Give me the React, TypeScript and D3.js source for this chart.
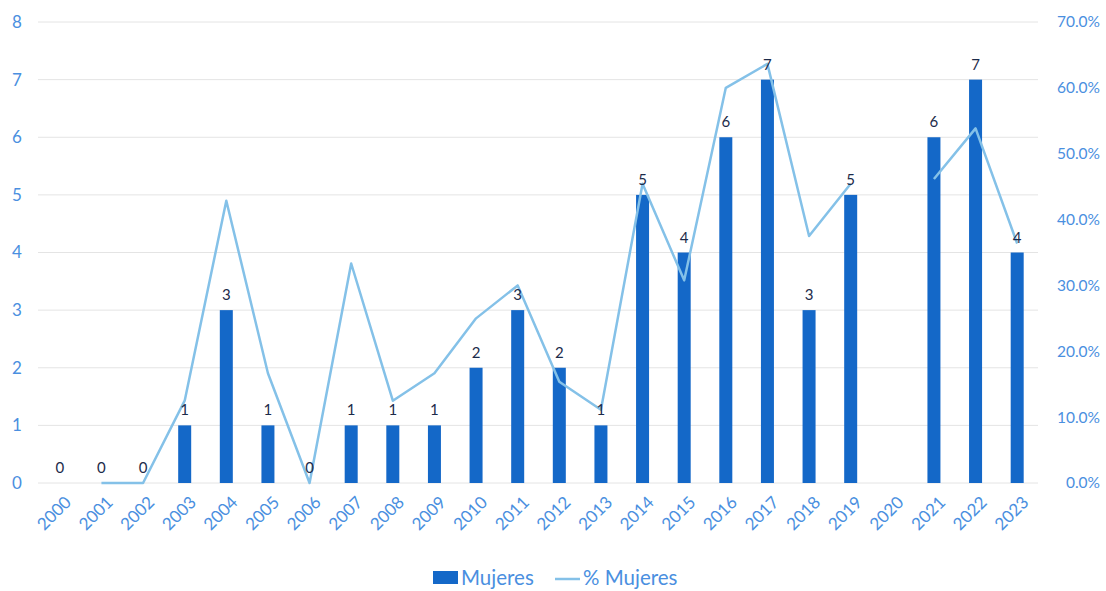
import React from "react";
import * as d3 from "d3";

const years = ["2000","2001","2002","2003","2004","2005","2006","2007","2008","2009","2010","2011","2012","2013","2014","2015","2016","2017","2018","2019","2020","2021","2022","2023"];
const mujeres: (number | null)[] = [0,0,0,1,3,1,0,1,1,1,2,3,2,1,5,4,6,7,3,5,null,6,7,4];
const pctMujeres: (number | null)[] = [null,0,0,0.125,0.4286,0.1667,0,0.3333,0.125,0.1667,0.25,0.30,0.1538,0.1111,0.4545,0.3077,0.60,0.6364,0.375,0.4545,null,0.4615,0.5385,0.3636];
const leftTicks = [0,1,2,3,4,5,6,7,8];
const rightTicks = [0,0.1,0.2,0.3,0.4,0.5,0.6,0.7];

const W = 1106, H = 591;
const FONT = "Lato, 'Open Sans', sans-serif";
const BAR = "#1468c8";
const LINE = "#84c1e8";
const AXIS_TXT = "#4a8fe0";
const LABEL_TXT = "#1c2b4a";

export default function App() {
  const x = d3.scaleBand<string>().domain(years).range([39, 1038]).paddingInner(0).paddingOuter(0);
  const yL = d3.scaleLinear().domain([0, 8]).range([483, 22]);
  const yR = d3.scaleLinear().domain([0, 0.7]).range([483, 22]);
  const bw = 13;
  const cx = (y: string) => (x(y) as number) + x.bandwidth() / 2;

  const line = d3.line<number | null>()
    .defined((d) => d !== null)
    .x((_, i) => cx(years[i]))
    .y((d) => yR(d as number));

  return (
    <svg width={W} height={H} style={{ position: "absolute", left: 0, top: 0, background: "#fff" }}>
      {leftTicks.map((t) => (
        <line key={"g" + t} x1={38} x2={1038} y1={yL(t)} y2={yL(t)} stroke="#e4e4e4" strokeWidth={1} />
      ))}
      {leftTicks.map((t) => (
        <text key={"l" + t} x={17} y={yL(t)} dy="0.35em" textAnchor="middle" fill={AXIS_TXT} fontFamily={FONT} fontSize={17}>{t}</text>
      ))}
      {rightTicks.map((t) => (
        <text key={"r" + t} x={1100} y={yR(t)} dy="0.35em" textAnchor="end" fill={AXIS_TXT} fontFamily={FONT} fontSize={15.5}>{d3.format(".1%")(t)}</text>
      ))}
      {mujeres.map((v, i) => v !== null && v > 0 ? (
        <rect key={"b" + i} x={cx(years[i]) - bw / 2} y={yL(v)} width={bw} height={yL(0) - yL(v)} fill={BAR} />
      ) : null)}
      <path d={line(pctMujeres) || ""} fill="none" stroke={LINE} strokeWidth={2.5} strokeLinejoin="round" />
      {mujeres.map((v, i) => v !== null ? (
        <text key={"t" + i} x={cx(years[i])} y={yL(v) - 10} textAnchor="middle" fill={LABEL_TXT} fontFamily={FONT} fontSize={15}>{v}</text>
      ) : null)}
      {years.map((y) => (
        <text key={"x" + y} transform={`translate(${cx(y) + 4},${495}) rotate(-45)`} textAnchor="end" dy="0.7em" fill={AXIS_TXT} fontFamily={FONT} fontSize={17}>{y}</text>
      ))}
      <g>
        <rect x={433} y={571} width={25} height={13} fill={BAR} />
        <text x={461} y={585} fill={AXIS_TXT} fontFamily={FONT} fontSize={20.5}>Mujeres</text>
        <line x1={555} x2={580} y1={579} y2={579} stroke={LINE} strokeWidth={2.5} />
        <text x={583} y={585} fill={AXIS_TXT} fontFamily={FONT} fontSize={20.5}>% Mujeres</text>
      </g>
    </svg>
  );
}
